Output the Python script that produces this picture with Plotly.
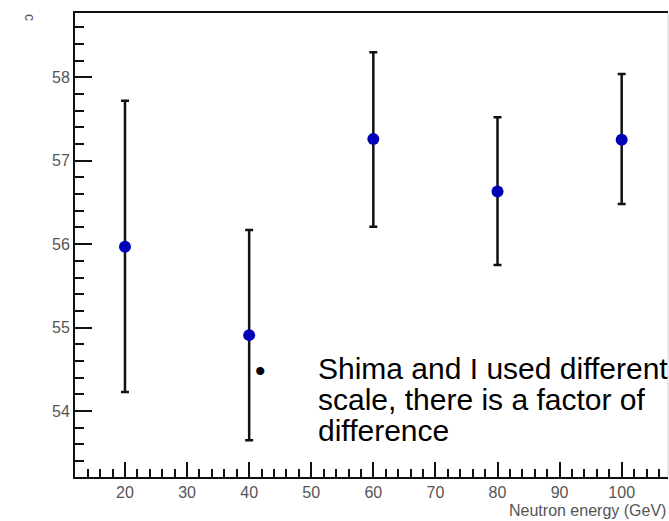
import plotly.graph_objects as go

# ---- data ----
energy = [20, 40, 60, 80, 100]
value = [55.97, 54.91, 57.26, 56.63, 57.25]
err_plus = [1.75, 1.26, 1.04, 0.89, 0.79]
err_minus = [1.74, 1.26, 1.05, 0.88, 0.77]

x_ticks = [20, 30, 40, 50, 60, 70, 80, 90, 100]
y_ticks = [54, 55, 56, 57, 58]

x_title = "Neutron energy (GeV)"
y_title_fragment = "c"
note_lines = ["Shima and I used different", "scale, there is a factor of", "difference"]

W, H = 669, 521
L, R, T, B = 75, 1, 13, 44
PW, PH = W - L - R, H - T - B


def px_x(px):
    return (px - L) / PW


def px_y(py):
    return (H - B - py) / PH


fig = go.Figure()
fig.add_trace(go.Scatter(
    x=energy, y=value, mode="markers",
    marker=dict(color="#0000b8", size=12, line=dict(width=0)),
    error_y=dict(type="data", array=err_plus, arrayminus=err_minus,
                 color="#111111", thickness=2.5, width=4),
    showlegend=False,
))

tick_font = dict(family="Liberation Sans, Arial, sans-serif", size=16, color="#555555")

fig.update_layout(
    width=W, height=H,
    margin=dict(l=L, r=R, t=T, b=B, pad=0),
    paper_bgcolor="white", plot_bgcolor="white",
    xaxis=dict(
        range=[11.95, 107.46], showgrid=False, zeroline=False,
        showline=True, linecolor="#111111", linewidth=2, mirror=True,
        ticks="inside", ticklen=15, tickwidth=2, tickcolor="#111111",
        tickvals=x_ticks, ticktext=[str(v) for v in x_ticks],
        tickfont=tick_font,
        minor=dict(ticks="inside", ticklen=8, tickwidth=2, tickcolor="#111111",
                   dtick=2, tick0=0, showgrid=False),
    ),
    yaxis=dict(
        range=[53.21, 58.77], showgrid=False, zeroline=False,
        showline=True, linecolor="#111111", linewidth=2,
        ticks="inside", ticklen=17, tickwidth=2, tickcolor="#111111",
        tickvals=y_ticks, ticktext=[str(v) for v in y_ticks],
        tickfont=tick_font,
        minor=dict(ticks="inside", ticklen=9, tickwidth=2, tickcolor="#111111",
                   dtick=0.2, tick0=0, showgrid=False),
    ),
    font=dict(family="Liberation Sans, Arial, sans-serif"),
)

# faint right frame edge
fig.add_shape(type="line", xref="paper", yref="paper", x0=1, x1=1, y0=0, y1=1,
              line=dict(color="#cfcfcf", width=1))

# x-axis title (right aligned at the image edge)
fig.add_annotation(text=x_title, xref="paper", yref="paper",
                   x=px_x(668), y=px_y(510), xanchor="right", yanchor="middle",
                   showarrow=False,
                   font=dict(family="Liberation Sans, Arial, sans-serif", size=16, color="#555555"))

# remaining fragment of the y-axis title
fig.add_annotation(text=y_title_fragment, xref="paper", yref="paper",
                   x=px_x(30), y=px_y(17), xanchor="center", yanchor="middle",
                   textangle=90, showarrow=False,
                   font=dict(family="Liberation Sans, Arial, sans-serif", size=14, color="#555555"))

# slide bullet text overlay
fig.add_annotation(text="•", xref="paper", yref="paper",
                   x=px_x(260), y=px_y(370), xanchor="center", yanchor="middle",
                   showarrow=False,
                   font=dict(family="Liberation Sans, Arial, sans-serif", size=30, color="black"))
for i, line in enumerate(note_lines):
    fig.add_annotation(text=line, xref="paper", yref="paper",
                       x=px_x(316), y=px_y(368 + 31 * i), xanchor="left", yanchor="middle",
                       showarrow=False,
                       font=dict(family="Liberation Sans, Arial, sans-serif", size=30, color="black"))

fig.write_html("out.html")
